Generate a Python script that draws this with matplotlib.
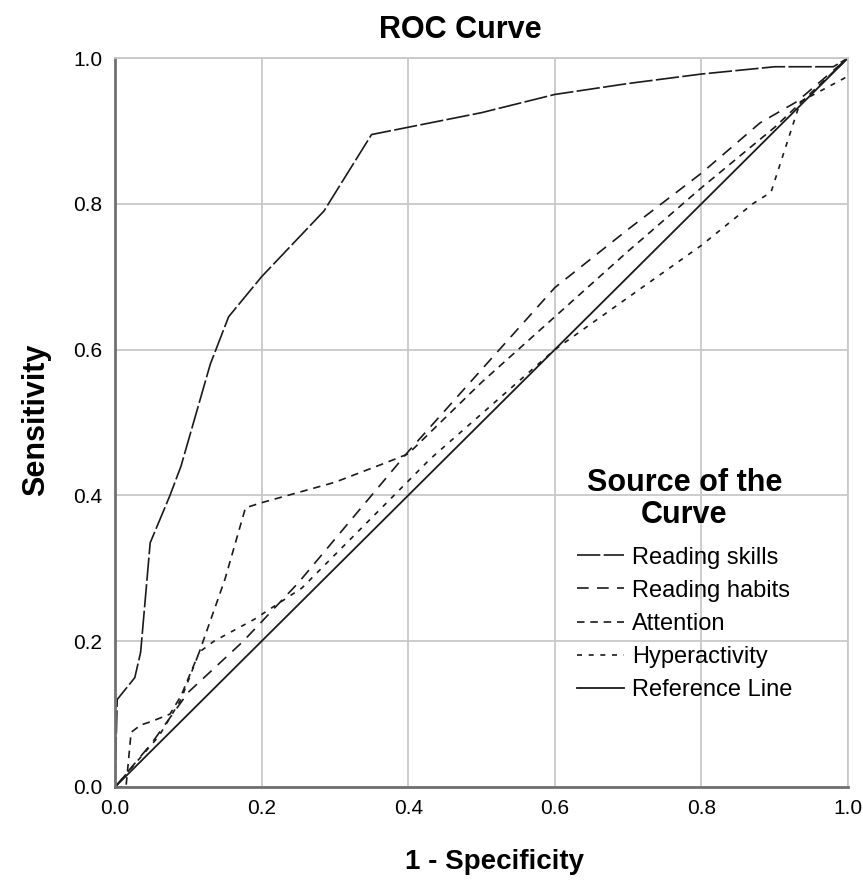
import matplotlib
matplotlib.use("Agg")
import matplotlib.pyplot as plt

# ROC curves
skills_x = [0, 0.003, 0.027, 0.035, 0.048, 0.075, 0.09, 0.13, 0.155, 0.2, 0.285, 0.35, 0.4, 0.5, 0.6, 0.7, 0.8, 0.9, 0.98, 1.0]
skills_y = [0, 0.12, 0.15, 0.185, 0.335, 0.40, 0.44, 0.58, 0.645, 0.70, 0.79, 0.895, 0.905, 0.925, 0.95, 0.965, 0.978, 0.988, 0.988, 1.0]

habits_x = [0, 0.05, 0.1, 0.175, 0.25, 0.3, 0.4, 0.6, 0.7, 0.8, 0.88, 0.93, 1.0]
habits_y = [0, 0.06, 0.13, 0.2, 0.28, 0.34, 0.46, 0.685, 0.765, 0.842, 0.911, 0.94, 1.0]

attention_x = [0, 0.015, 0.022, 0.035, 0.05, 0.075, 0.09, 0.115, 0.15, 0.178, 0.2, 0.3, 0.37, 0.4, 0.5, 0.6, 0.7, 0.8, 0.9, 1.0]
attention_y = [0, 0, 0.075, 0.085, 0.09, 0.10, 0.125, 0.185, 0.285, 0.383, 0.39, 0.418, 0.445, 0.457, 0.555, 0.645, 0.735, 0.822, 0.905, 1.0]

hyper_x = [0, 0.06, 0.09, 0.115, 0.135, 0.19, 0.255, 0.43, 0.6, 0.8, 0.87, 0.895, 0.935, 1.0, 1.0]
hyper_y = [0, 0.07, 0.12, 0.185, 0.2, 0.23, 0.273, 0.45, 0.6, 0.743, 0.80, 0.816, 0.94, 0.975, 1.0]

ref_x = [0, 1]
ref_y = [0, 1]

ticks = [0.0, 0.2, 0.4, 0.6, 0.8, 1.0]

plt.rcParams['font.family'] = ['Liberation Sans', 'DejaVu Sans']

fig = plt.figure(figsize=(8.63, 8.84), dpi=100)
ax = fig.add_axes([115/863, 1-787/884, 733/863, 729/884])

line_color = "#1a1a1a"
ax.plot(skills_x, skills_y, color=line_color, lw=1.2, dashes=(14, 2), label="Reading skills")
ax.plot(habits_x, habits_y, color=line_color, lw=1.2, dashes=(7, 5), label="Reading habits")
ax.plot(attention_x, attention_y, color=line_color, lw=1.2, dashes=(4.5, 3.5), label="Attention")
ax.plot(hyper_x, hyper_y, color=line_color, lw=1.2, dashes=(3, 4), label="Hyperactivity")
ax.plot(ref_x, ref_y, color=line_color, lw=1.3, label="Reference Line")

ax.set_xlim(0, 1)
ax.set_ylim(0, 1)
ax.set_xticks(ticks)
ax.set_yticks(ticks)
ax.set_xticklabels(["%.1f" % t for t in ticks], fontsize=15)
ax.set_yticklabels(["%.1f" % t for t in ticks], fontsize=15)
ax.tick_params(axis="x", length=0, pad=9)
ax.tick_params(axis="y", length=0, pad=9)

# grid behind the curves
ax.set_axisbelow(True)
ax.grid(True, color="#c8c8c8", lw=1.3)
for side in ("left", "bottom"):
  ax.spines[side].set_color("#707070")
  ax.spines[side].set_linewidth(2)
for side in ("top", "right"):
  ax.spines[side].set_color("#c8c8c8")
  ax.spines[side].set_linewidth(1.3)

fig.text(460/863, 1-30/884, "ROC Curve", ha="center", va="center", fontsize=22, fontweight="bold")
fig.text(494/863, 1-862/884, "1 - Specificity", ha="center", va="center", fontsize=20, fontweight="bold")
fig.text(36/863, 1-420/884, "Sensitivity", ha="center", va="center", rotation=90, fontsize=22, fontweight="bold")

leg = ax.legend(loc="upper left", bbox_to_anchor=(0.63, 0.438), frameon=False, fontsize=17,
                title="Source of the\nCurve", title_fontproperties={"size": 22, "weight": "bold"},
                handlelength=2.0, handletextpad=0.33, labelspacing=0.47, borderpad=0, borderaxespad=0)
leg._legend_box.align = "center"
leg._legend_box.sep = 12
leg.get_title().set_multialignment("center")
leg.get_title().set_linespacing(1.1)

plt.savefig("out.png", dpi=100)
